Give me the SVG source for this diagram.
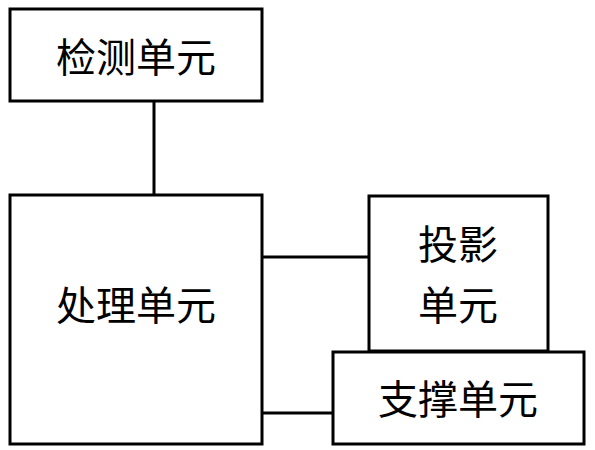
<svg xmlns="http://www.w3.org/2000/svg" width="595" height="450" viewBox="0 0 595 450">
<style>
.box{fill:#fff;stroke:#000;stroke-width:3}
.lbl{font-family:"Noto Sans CJK SC","Noto Sans CJK JP",sans-serif;font-size:40px;fill:#000;text-anchor:middle;dominant-baseline:central}
.conn{stroke:#000;stroke-width:3;fill:none}
</style>
<rect width="595" height="450" fill="#fff"/>
<g id="connectors">
<line class="conn" x1="154" y1="101" x2="154" y2="195"/>
<line class="conn" x1="262" y1="257" x2="369" y2="257"/>
<line class="conn" x1="262" y1="413" x2="333" y2="413"/>
</g>
<g id="detect">
<rect class="box" x="10" y="9" width="252" height="92"/>
<text class="lbl" x="136" y="55">检测单元</text>
</g>
<g id="process">
<rect class="box" x="10" y="195" width="252" height="249"/>
<text class="lbl" x="136" y="303">处理单元</text>
</g>
<g id="projection">
<rect class="box" x="369" y="196" width="179" height="155"/>
<text class="lbl" x="458" y="242">投影</text>
<text class="lbl" x="458" y="303">单元</text>
</g>
<g id="support">
<rect class="box" x="333" y="352" width="251" height="92"/>
<text class="lbl" x="458" y="397">支撑单元</text>
</g>
</svg>
